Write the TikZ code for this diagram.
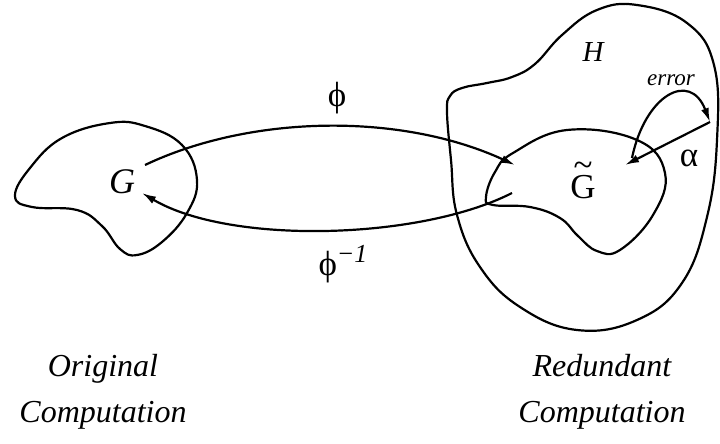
\documentclass[tikz,border=0pt]{standalone}
\usepackage{fontspec}
\setmainfont{Liberation Serif}
\usetikzlibrary{arrows.meta}
\tikzset{
  blob/.style={line width=2.2pt, line join=round},
  map/.style={line width=2.2pt, -{Latex[length=14pt,width=8pt]}},
  lbl/.style={font=\fontsize{32}{46}\selectfont\itshape, align=center},
  sym/.style={font=\fontsize{35}{40}\selectfont}
}
\begin{document}
\begin{tikzpicture}[x=1pt, y=-1pt]
        \useasboundingbox (0,0) rectangle (720,444);

        % Original computation
        \draw[blob] plot[smooth cycle, tension=0.7] coordinates {
            (15,196) (32,207) (77,210) (102,226) (120,249) (137,255) (162,242) (187,213)
            (197,180) (182,145) (145,126) (110,123) (62,138) (30,168)};
        \node[sym, font=\fontsize{36}{40}\selectfont\itshape] (G) at (122,182) {G};

        % Redundant computation
        \draw[blob] plot[smooth cycle, tension=0.7] coordinates {
            (447,112) (451,160) (457,215) (480,267) (520,307) (577,330) (637,320)
            (682,283) (707,217) (717,140) (714,65) (687,23) (637,5) (597,10)
            (562,35) (535,64) (512,77) (487,83) (462,88) (450,96)};
        \draw[blob] plot[smooth cycle, tension=0.7] coordinates {
            (486,197) (495,172) (513,153) (567,130) (637,140) (665,173) (653,215)
            (620,250) (597,251) (578,236) (560,218) (530,207) (493,205)};
        \node[sym] (Gt) at (583,187) {\ooalign{G\cr\hidewidth\raisebox{0.62em}{\textasciitilde}\hidewidth\cr}};
        \node[sym, font=\fontsize{29}{34}\selectfont\itshape] (H) at (593,52) {H};

        % mappings
        \coordinate (Gout) at (145,165);
        \coordinate (Gin) at (142,193);
        \coordinate (Gtin) at (515,165);
        \coordinate (Gtout) at (512,193);
        \draw[map] (Gout) .. controls (250,115) and (400,112) .. (Gtin);
        \draw[map] (Gtout) .. controls (420,240) and (230,245) .. (Gin);
        \node[sym] (phi) at (337,98) {ϕ};
        \node[sym, anchor=base] (phiinv) at (343,275) {ϕ\raisebox{13pt}{\fontsize{26}{28}\selectfont\itshape −1}};

        % error and recovery
        \coordinate (err) at (710,122);
        \coordinate (Gtc) at (625,165);
        \draw[map] (632,158) .. controls (645,95) and (690,70) .. (err);
        \draw[map] (err) -- (Gtc);
        \node[font=\fontsize{23}{26}\selectfont\itshape] (errlbl) at (671,80) {error};
        \node[sym] (alpha) at (689,158) {α};

        % captions
        \node[lbl] (orig) at (103,392) {Original\\Computation};
        \node[lbl] (red) at (602,392) {Redundant\\Computation};
\end{tikzpicture}
\end{document}
